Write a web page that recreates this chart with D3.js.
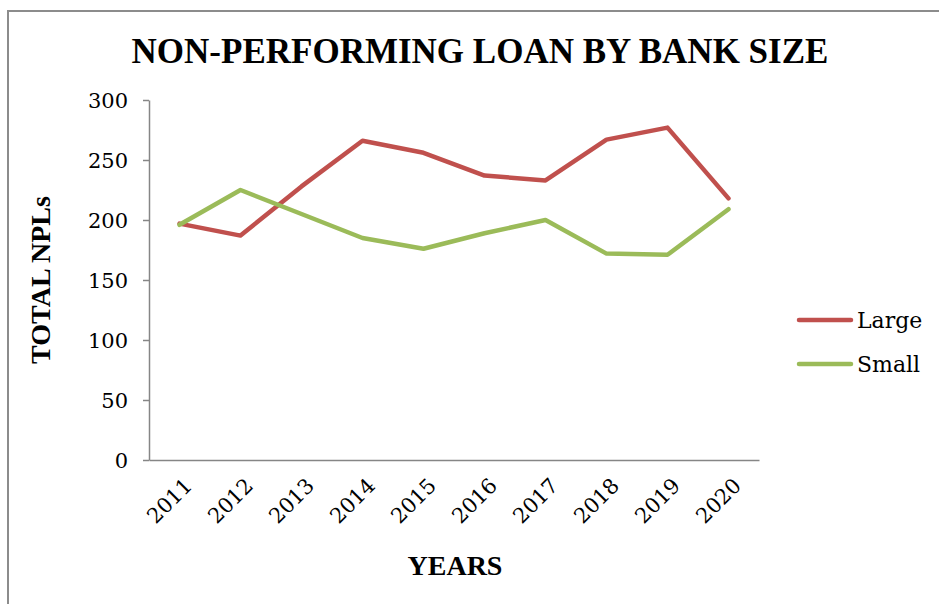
<!DOCTYPE html>
<html><head><meta charset="utf-8">
<script src="https://cdn.jsdelivr.net/npm/d3@7/dist/d3.min.js"></script>
<style>body{margin:0;background:#fff}svg{display:block}</style>
</head><body><svg id="c" width="939" height="604"></svg>
<script>
const years = ["2011","2012","2013","2014","2015","2016","2017","2018","2019","2020"];
const large = [197, 187, 228, 266, 256, 237, 233, 267, 277, 218];
const small = [196, 225, 205, 185, 176, 189, 200, 172, 171, 209];
const yTicks = [0, 50, 100, 150, 200, 250, 300];
const seriesNames = ["Large", "Small"];
const colors = ["#C0504D", "#9BBB59"];

const svg = d3.select("#c");
const serif = "Georgia, 'DejaVu Serif', serif";
const titleFont = "'Liberation Serif', 'Times New Roman', serif";

// outer frame
svg.append("rect").attr("x",8).attr("y",11).attr("width",940).attr("height",610)
  .attr("fill","none").attr("stroke","#8c8c8c").attr("stroke-width",2);

const x = d3.scaleBand().domain(years).range([149, 759]);
const y = d3.scaleLinear().domain([0,300]).range([460,100]);

// y axis
const ya = svg.append("g").attr("transform","translate(149,0)")
  .call(d3.axisLeft(y).tickValues(yTicks).tickSize(6).tickSizeOuter(0).tickPadding(15));
ya.select(".domain").attr("stroke","#868686").attr("stroke-width",1.5);
ya.selectAll(".tick line").attr("stroke","#868686").attr("stroke-width",1.5);
ya.selectAll("text").attr("font-family",serif).attr("font-size",21).attr("fill","#000").attr("dy","0.35em");

// x axis
const xa = svg.append("g").attr("transform","translate(0,460)")
  .call(d3.axisBottom(x).tickSize(0).tickSizeOuter(0).tickPadding(0));
xa.select(".domain").attr("stroke","#868686").attr("stroke-width",1.5);
xa.selectAll("text").attr("font-family",serif).attr("font-size",21).attr("fill","#000")
  .attr("text-anchor","end").attr("dy",0).attr("y",0)
  .attr("transform","translate(14,27) rotate(-45)");

// lines
const line = d3.line().x((d,i)=>x(years[i])+x.bandwidth()/2).y(d=>y(d));
[large, small].forEach((s,k)=>{
  svg.append("path").datum(s).attr("d",line).attr("fill","none")
    .attr("stroke",colors[k]).attr("stroke-width",4.5)
    .attr("stroke-linejoin","round").attr("stroke-linecap","round");
});

// title
svg.append("text").attr("x",480).attr("y",63).attr("text-anchor","middle")
  .attr("font-family",titleFont).attr("font-weight","bold").attr("font-size",35)
  .text("NON-PERFORMING LOAN BY BANK SIZE");

// axis titles
svg.append("text").attr("x",455).attr("y",575).attr("text-anchor","middle")
  .attr("font-family",titleFont).attr("font-weight","bold").attr("font-size",28)
  .text("YEARS");
svg.append("text").attr("transform","translate(50,280) rotate(-90)").attr("text-anchor","middle")
  .attr("font-family",titleFont).attr("font-weight","bold").attr("font-size",28)
  .text("TOTAL NPLs");

// legend
seriesNames.forEach((n,k)=>{
  const ly = 320 + k*44;
  svg.append("line").attr("x1",799).attr("x2",851).attr("y1",ly).attr("y2",ly)
    .attr("stroke",colors[k]).attr("stroke-width",4.5).attr("stroke-linecap","round");
  svg.append("text").attr("x",857).attr("y",ly).attr("dy","0.35em")
    .attr("font-family",serif).attr("font-size",22).text(n);
});
</script></body></html>
